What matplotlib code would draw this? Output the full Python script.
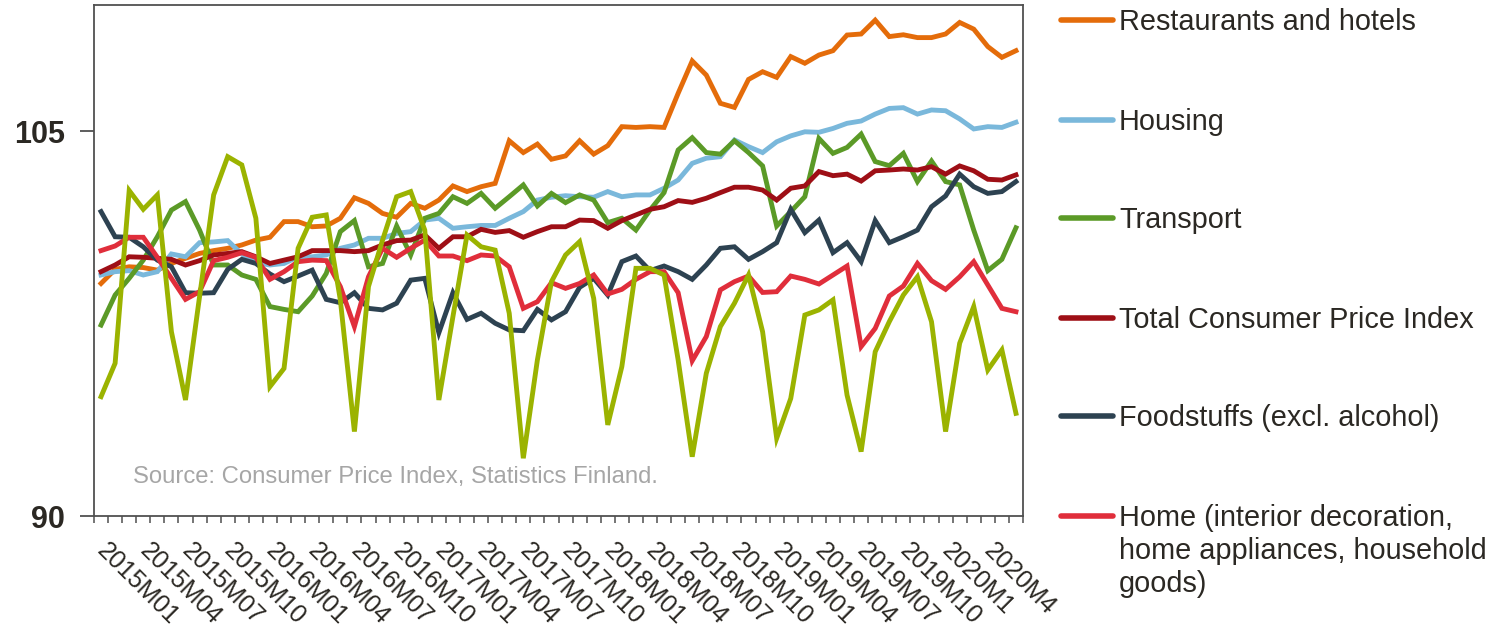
import matplotlib.pyplot as plt
from matplotlib.lines import Line2D
import numpy as np

plt.rcParams['font.family'] = ['Liberation Sans', 'DejaVu Sans']

# monthly index values, 2015M01 .. 2020M06
restaurants = [99.06, 99.61, 99.71, 99.68, 99.58, 99.84, 100.04, 100.23, 100.34, 100.43,
               100.56, 100.75, 100.86, 101.47, 101.47, 101.27, 101.3, 101.6, 102.4, 102.18,
               101.79, 101.64, 102.18, 101.99, 102.31, 102.86, 102.64, 102.83, 102.96, 104.62,
               104.16, 104.49, 103.9, 104.03, 104.62, 104.1, 104.43, 105.17, 105.14, 105.17,
               105.14, 106.47, 107.73, 107.18, 106.08, 105.92, 107.01, 107.31, 107.09, 107.9,
               107.64, 107.96, 108.13, 108.74, 108.78, 109.32, 108.68, 108.75, 108.64, 108.64,
               108.78, 109.23, 108.97, 108.29, 107.87, 108.13]
housing = [99.39, 99.52, 99.56, 99.39, 99.52, 100.21, 100.1, 100.65, 100.68, 100.73,
           100.21, 99.87, 99.78, 99.84, 100.1, 100.1, 100.17, 100.43, 100.56, 100.82,
           100.82, 101.01, 101.08, 101.53, 101.6, 101.21, 101.27, 101.32, 101.32, 101.6,
           101.86, 102.31, 102.42, 102.48, 102.44, 102.42, 102.64, 102.44, 102.51, 102.51,
           102.77, 103.09, 103.74, 103.94, 104.0, 104.65, 104.39, 104.16, 104.58, 104.81,
           104.97, 104.95, 105.1, 105.3, 105.39, 105.66, 105.88, 105.91, 105.66, 105.82,
           105.79, 105.47, 105.08, 105.17, 105.14, 105.34]
transport = [97.44, 98.61, 99.26, 99.97, 100.88, 101.92, 102.25, 101.14, 99.78, 99.78,
             99.39, 99.22, 98.16, 98.05, 97.96, 98.57, 99.45, 101.08, 101.51, 99.71,
             99.84, 101.3, 100.17, 101.6, 101.79, 102.44, 102.18, 102.57, 101.99, 102.44,
             102.9, 102.08, 102.57, 102.21, 102.51, 102.31, 101.43, 101.6, 101.14, 101.92,
             102.6, 104.26, 104.74, 104.16, 104.1, 104.62, 104.16, 103.64, 101.3, 101.86,
             102.44, 104.71, 104.13, 104.36, 104.88, 103.81, 103.65, 104.13, 103.03, 103.83,
             103.03, 102.9, 101.14, 99.56, 100.0, 101.23]
total_cpi = [99.52, 99.78, 100.1, 100.08, 100.04, 100.0, 99.78, 99.95, 100.17, 100.23,
             100.3, 100.1, 99.84, 99.97, 100.1, 100.34, 100.34, 100.34, 100.3, 100.34,
             100.56, 100.73, 100.75, 100.95, 100.43, 100.88, 100.88, 101.17, 101.05, 101.12,
             100.86, 101.08, 101.27, 101.27, 101.53, 101.51, 101.21, 101.51, 101.73, 101.95,
             102.05, 102.29, 102.22, 102.38, 102.6, 102.81, 102.81, 102.7, 102.31, 102.77,
             102.86, 103.42, 103.26, 103.32, 103.05, 103.45, 103.48, 103.52, 103.48, 103.61,
             103.32, 103.64, 103.45, 103.12, 103.09, 103.29]
foodstuffs = [101.86, 100.88, 100.86, 100.49, 99.97, 99.71, 98.7, 98.68, 98.7, 99.61,
              100.0, 99.84, 99.43, 99.13, 99.35, 99.58, 98.44, 98.31, 98.7, 98.09,
              98.03, 98.29, 99.19, 99.26, 97.14, 98.7, 97.66, 97.9, 97.51, 97.25,
              97.22, 98.05, 97.64, 97.96, 98.91, 99.26, 98.61, 99.91, 100.13, 99.56,
              99.74, 99.52, 99.22, 99.78, 100.43, 100.49, 100.0, 100.3, 100.65, 101.95,
              101.04, 101.53, 100.26, 100.65, 99.91, 101.51, 100.65, 100.88, 101.14, 102.05,
              102.47, 103.32, 102.83, 102.57, 102.64, 103.03]
home = [100.34, 100.52, 100.86, 100.86, 100.08, 99.26, 98.44, 98.74, 99.95, 100.08,
        100.26, 100.08, 99.22, 99.52, 99.91, 99.97, 99.95, 98.94, 97.38, 99.32,
        100.43, 100.08, 100.43, 100.75, 100.13, 100.13, 99.95, 100.17, 100.13, 99.71,
        98.09, 98.35, 99.09, 98.87, 99.06, 99.39, 98.65, 98.83, 99.22, 99.52,
        99.52, 98.7, 96.05, 96.99, 98.81, 99.13, 99.35, 98.71, 98.74, 99.35,
        99.22, 99.04, 99.39, 99.74, 96.6, 97.31, 98.57, 98.96, 99.84, 99.17,
        98.83, 99.32, 99.91, 99.0, 98.09, 97.96]
clothing = [94.65, 95.95, 102.68, 101.95, 102.51, 97.18, 94.52, 98.55, 102.51, 104.0,
            103.68, 101.6, 95.04, 95.75, 100.43, 101.64, 101.73, 98.42, 93.29, 98.94,
            100.75, 102.44, 102.64, 101.14, 94.52, 97.77, 100.95, 100.49, 100.36, 97.9,
            92.25, 96.08, 99.13, 100.17, 100.69, 98.48, 93.55, 95.82, 99.65, 99.65,
            99.39, 96.08, 92.31, 95.56, 97.38, 98.29, 99.39, 97.18, 93.03, 94.58,
            97.83, 98.03, 98.42, 94.71, 92.51, 96.4, 97.57, 98.61, 99.32, 97.57,
            93.29, 96.73, 98.16, 95.69, 96.47, 94.0]

tick_labels = ["2015M01", "2015M04", "2015M07", "2015M10", "2016M01", "2016M04",
               "2016M07", "2016M10", "2017M01", "2017M04", "2017M07", "2017M10",
               "2018M01", "2018M04", "2018M07", "2018M10", "2019M01", "2019M04",
               "2019M07", "2019M10", "2020M1", "2020M4"]

legend_labels = ["Restaurants and hotels", "Housing", "Transport",
                 "Total Consumer Price Index", "Foodstuffs (excl. alcohol)",
                 "Home (interior decoration,\nhome appliances, household\ngoods)"]
colors = ["#E46C0A", "#7AB8DB", "#5B9A27", "#9E0F16", "#2D4251", "#E02E3B"]
clothing_color = "#9BB300"
text_color = "#2B2823"

W, H = 1501, 628
fig = plt.figure(figsize=(W / 100, H / 100), dpi=100)
ax = fig.add_axes([94 / W, 1 - 516 / H, (1023 - 94) / W, (516 - 5) / H])

x = np.arange(len(restaurants))
series = [restaurants, housing, transport, total_cpi, foodstuffs, home]
for vals, c in zip(series, colors):
    ax.plot(x, vals, color=c, lw=3.5, solid_joinstyle="miter")
ax.plot(x, clothing, color=clothing_color, lw=3.5, solid_joinstyle="miter")

ax.set_xlim(-0.5, len(x) - 0.5)
ax.set_ylim(90, 109.91)

ax.set_yticks([90, 105])
ax.set_yticklabels(["90", "105"], fontsize=22, fontweight="bold", color=text_color)
ax.tick_params(axis="y", length=10, width=1.3, color="#505050", pad=11)

ax.set_xticks(np.arange(0, len(x), 3))
ax.set_xticklabels(tick_labels, rotation=-45, ha="left", va="center",
                   rotation_mode="anchor", fontsize=18, color=text_color)
ax.set_xticks(np.arange(-0.5, len(x), 1), minor=True)
ax.tick_params(axis="x", which="major", length=0, pad=22)
ax.tick_params(axis="x", which="minor", length=5, width=1.1, color="#505050")

for s in ax.spines.values():
    s.set_color("#505050")
    s.set_linewidth(1.3)

ax.text(0.042, (516 - 483) / 511, "Source: Consumer Price Index, Statistics Finland.",
        transform=ax.transAxes, fontsize=17.2, color="#A6A6A6", va="baseline")

# legend drawn by hand on the right
leg_y = [20, 120, 218, 318, 416, 516]
for lab, c, y in zip(legend_labels, colors, leg_y):
    fy = 1 - y / H
    fig.add_artist(Line2D([1061 / W, 1113 / W], [fy, fy], color=c, lw=4,
                          solid_capstyle="round"))
    for k, line in enumerate(lab.split("\n")):
        fig.text(1119 / W, 1 - (y + 10 + 33 * k) / H, line, fontsize=20.8,
                 color=text_color, va="baseline")

fig.savefig("out.png", dpi=100)
